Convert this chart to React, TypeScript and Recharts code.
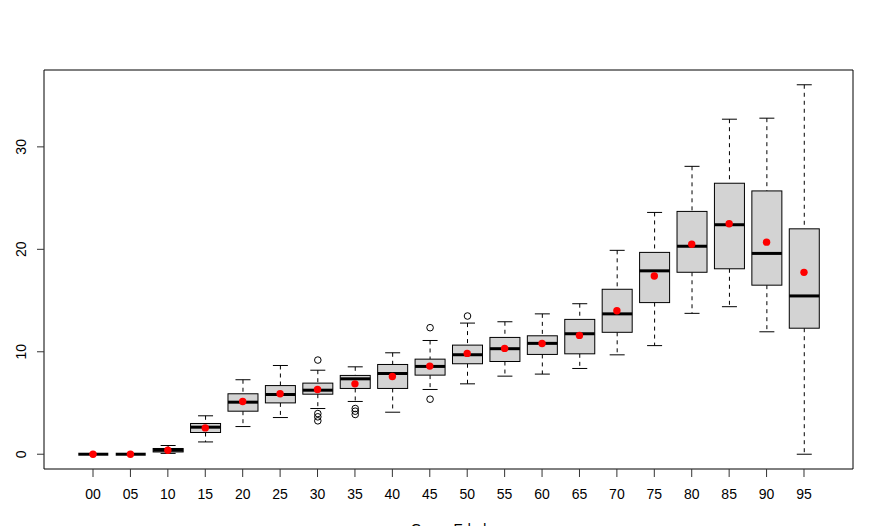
import React from 'react';
import { ComposedChart, Bar, Scatter, XAxis, YAxis } from 'recharts';

const categories = ['00', '05', '10', '15', '20', '25', '30', '35', '40', '45', '50', '55', '60', '65', '70', '75', '80', '85', '90', '95'];
const whiskerLow = [0, 0, 0.08, 1.2, 2.7, 3.58, 4.46, 5.15, 4.1, 6.32, 6.87, 7.62, 7.82, 8.37, 9.7, 10.6, 13.75, 14.4, 11.95, 0];
const lowerQuartile = [0, 0, 0.22, 2.12, 4.2, 5.01, 5.86, 6.42, 6.42, 7.72, 8.83, 9.05, 9.74, 9.8, 11.9, 14.8, 17.76, 18.1, 16.5, 12.3];
const medians = [0, 0, 0.4, 2.64, 5.08, 5.83, 6.25, 7.36, 7.88, 8.57, 9.71, 10.3, 10.82, 11.76, 13.7, 17.9, 20.3, 22.4, 19.6, 15.45];
const upperQuartile = [0, 0, 0.56, 3.0, 5.9, 6.7, 6.94, 7.69, 8.76, 9.28, 10.65, 11.4, 11.56, 13.16, 16.1, 19.7, 23.7, 26.45, 25.7, 22.0];
const whiskerHigh = [0, 0, 0.85, 3.75, 7.27, 8.66, 8.2, 8.53, 9.9, 11.1, 12.8, 12.93, 13.7, 14.69, 19.9, 23.6, 28.1, 32.7, 32.8, 36.06];
const means = [0, 0, 0.39, 2.57, 5.15, 5.9, 6.32, 6.87, 7.59, 8.6, 9.84, 10.33, 10.8, 11.6, 14.0, 17.4, 20.5, 22.5, 20.7, 17.75];
const outliers: number[][] = [[], [], [], [], [], [], [9.19, 3.97, 3.65, 3.26], [4.46, 4.2, 3.88], [], [12.35, 5.37], [13.49], [], [], [], [], [], [], [], [], []];
const yTicks = [0, 10, 20, 30];
const xTitle = 'Grupo Edad';

const dataMin = Math.min(...whiskerLow, ...outliers.flat());
const dataMax = Math.max(...whiskerHigh, ...outliers.flat());
const ext = (dataMax - dataMin) * 0.04;
const Y_MIN = dataMin - ext;
const Y_MAX = dataMax + ext;

const rows = categories.map((cat, i) => ({
  cat,
  lo: whiskerLow[i],
  q1: lowerQuartile[i],
  med: medians[i],
  q3: upperQuartile[i],
  hi: whiskerHigh[i],
  mean: means[i],
  out: outliers[i],
}));

const BoxShape = (props: any) => {
  const { x, y, width, height, payload } = props;
  if (!payload) return null;
  const toPx = (v: number) => y + ((Y_MAX - v) / (Y_MAX - Y_MIN)) * height;
  const cx = x + width / 2;
  const capHalf = width / 4;
  const yHi = toPx(payload.hi);
  const yLo = toPx(payload.lo);
  const yQ3 = toPx(payload.q3);
  const yQ1 = toPx(payload.q1);
  const yMed = toPx(payload.med);
  return (
    <g>
      <line x1={cx} x2={cx} y1={yHi} y2={yQ3} stroke="#000" strokeDasharray="4 4" />
      <line x1={cx} x2={cx} y1={yQ1} y2={yLo} stroke="#000" strokeDasharray="4 4" />
      <line x1={cx - capHalf} x2={cx + capHalf} y1={yHi} y2={yHi} stroke="#000" />
      <line x1={cx - capHalf} x2={cx + capHalf} y1={yLo} y2={yLo} stroke="#000" />
      <rect x={x} y={yQ3} width={width} height={Math.max(0, yQ1 - yQ3)} fill="#d3d3d3" stroke="#000" />
      <line x1={x} x2={x + width} y1={yMed} y2={yMed} stroke="#000" strokeWidth={3} />
      {payload.out.map((o: number, k: number) => (
        <circle key={k} cx={cx} cy={toPx(o)} r={3.3} fill="none" stroke="#000" />
      ))}
    </g>
  );
};

const MeanDot = (props: any) => <circle cx={props.cx} cy={props.cy} r={3.7} fill="#ff0000" />;
const NoDot = () => <g />;

const YTick = (props: any) => {
  const { x, y, payload } = props;
  return (
    <text x={x} y={y} transform={`rotate(-90 ${x} ${y})`} textAnchor="middle" fontSize={14} fill="#000">
      {payload.value}
    </text>
  );
};

export default function App() {
  return (
    <div style={{ width: 889, height: 526, fontFamily: '"Liberation Sans", Arial, Helvetica, sans-serif', background: '#fff' }}>
      <style>{'body{margin:0}'}</style>
      <ComposedChart width={889} height={526} data={rows} margin={{ top: 69, right: 35, bottom: 0, left: 0 }}>
        <XAxis
          dataKey="cat"
          type="category"
          height={57}
          padding={{ left: 30.3, right: 30.3 }}
          tickSize={8}
          tickMargin={12}
          interval={0}
          tick={{ fontSize: 14, fill: '#000' }}
          tickLine={{ stroke: '#333' }}
          axisLine={{ stroke: '#000' }}
          label={{ value: xTitle, position: 'insideBottom', offset: -8, fontSize: 14, fill: '#000' }}
        />
        <XAxis
          xAxisId="top"
          orientation="top"
          dataKey="cat"
          type="category"
          height={1}
          padding={{ left: 30.3, right: 30.3 }}
          tick={false}
          tickLine={false}
          axisLine={{ stroke: '#000' }}
        />
        <YAxis
          type="number"
          domain={[Y_MIN, Y_MAX]}
          ticks={yTicks}
          allowDataOverflow
          width={44}
          tickSize={7}
          tickMargin={11}
          tick={<YTick />}
          tickLine={{ stroke: '#333' }}
          axisLine={{ stroke: '#000' }}
        />
        <YAxis
          yAxisId="right"
          orientation="right"
          type="number"
          domain={[Y_MIN, Y_MAX]}
          ticks={yTicks}
          allowDataOverflow
          width={1}
          tick={false}
          tickLine={false}
          axisLine={{ stroke: '#000' }}
        />
        <Bar
          dataKey={() => [Y_MIN, Y_MAX]}
          barSize={30}
          shape={<BoxShape />}
          isAnimationActive={false}
        />
        <Scatter dataKey="mean" shape={<MeanDot />} isAnimationActive={false} />
        <Scatter xAxisId="top" yAxisId="right" dataKey="mean" shape={<NoDot />} isAnimationActive={false} />
      </ComposedChart>
    </div>
  );
}
